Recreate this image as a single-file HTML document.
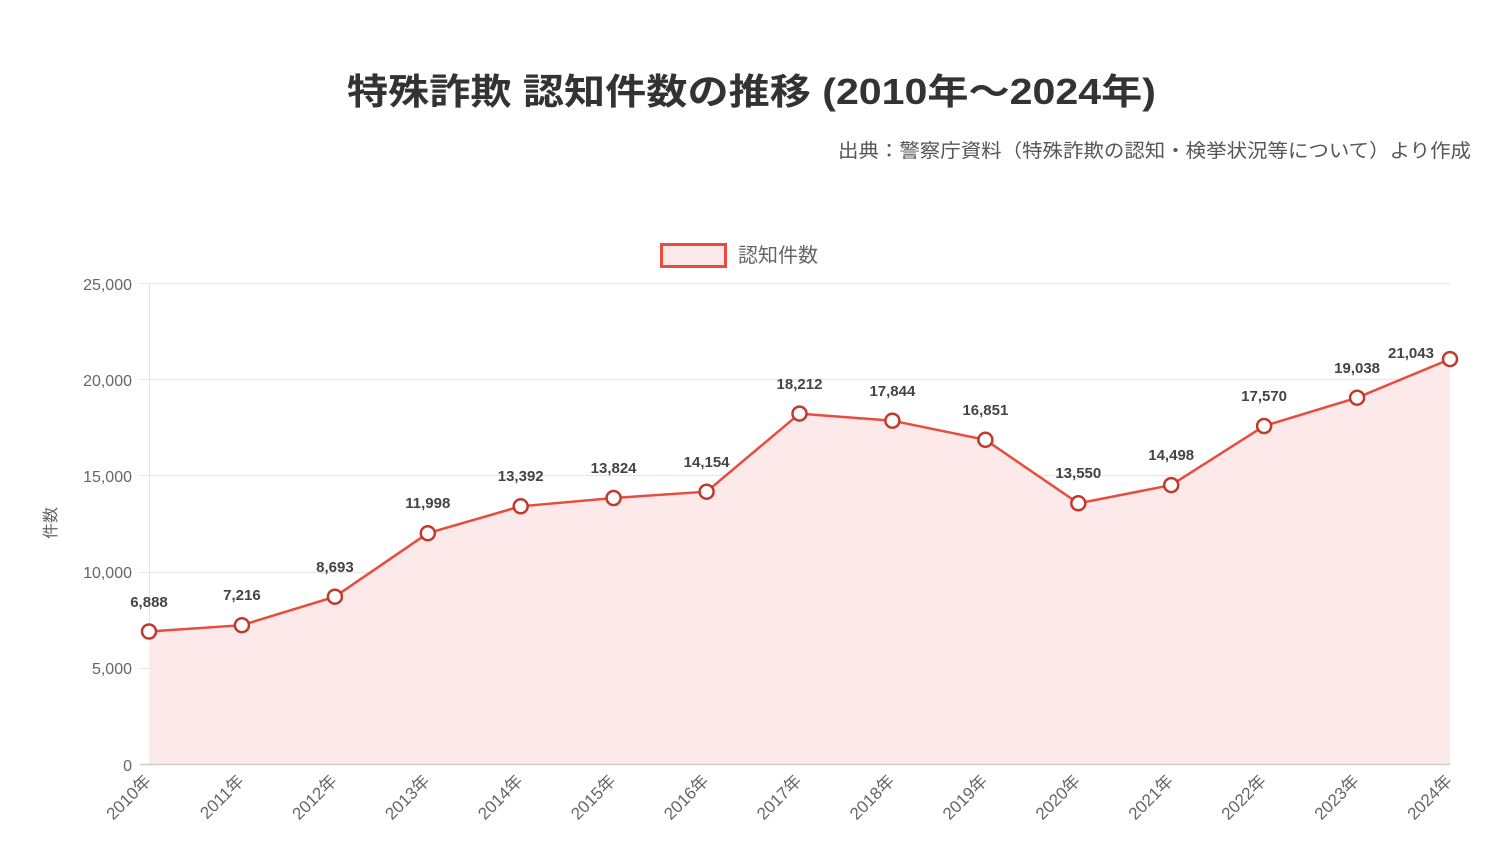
<!DOCTYPE html>
<html><head><meta charset="utf-8"><style>
body{margin:0;background:#fff;}
svg{display:block;font-family:"Liberation Sans","Noto Sans CJK JP",sans-serif;}
</style></head><body>
<svg width="1504" height="868" viewBox="0 0 1504 868">
<text x="347" y="104" textLength="809" lengthAdjust="spacingAndGlyphs" font-size="36" font-weight="bold" fill="#333">特殊詐欺 認知件数の推移 (2010年〜2024年)</text>
<text x="838" y="157" textLength="633" lengthAdjust="spacingAndGlyphs" font-size="19" fill="#555">出典：警察庁資料（特殊詐欺の認知・検挙状況等について）より作成</text>
<rect x="661.5" y="244.5" width="64" height="22" fill="#fde8e8" stroke="#e74c3c" stroke-width="3"/>
<text x="738" y="262" font-size="20" fill="#666">認知件数</text>
<g stroke="#e5e5e5" stroke-width="1">
<line x1="140" y1="283.5" x2="1450" y2="283.5"/>
<line x1="140" y1="379.5" x2="1450" y2="379.5"/>
<line x1="140" y1="475.5" x2="1450" y2="475.5"/>
<line x1="140" y1="572.5" x2="1450" y2="572.5"/>
<line x1="140" y1="668.5" x2="1450" y2="668.5"/>
<line x1="149.5" y1="283" x2="149.5" y2="764"/>
</g>
<g font-size="16" fill="#666" text-anchor="end">
<text x="132" y="290">25,000</text>
<text x="132" y="386">20,000</text>
<text x="132" y="482">15,000</text>
<text x="132" y="578">10,000</text>
<text x="132" y="674">5,000</text>
<text x="132" y="771">0</text>
</g>
<text transform="translate(56,523) rotate(-90)" text-anchor="middle" font-size="16" fill="#666">件数</text>
<path d="M149,631.5 L241.9,625.2 L334.9,596.7 L427.8,533.2 L520.7,506.3 L613.6,498 L706.6,491.7 L799.5,413.6 L892.4,420.7 L985.4,439.8 L1078.3,503.3 L1171.2,485.1 L1264.1,426 L1357.1,397.7 L1450,359.1 L1450,764 L149,764 Z" fill="#fde9ea"/>
<line x1="140" y1="764.5" x2="1450" y2="764.5" stroke="#ccc" stroke-width="1.5"/>
<polyline points="149,631.5 241.9,625.2 334.9,596.7 427.8,533.2 520.7,506.3 613.6,498 706.6,491.7 799.5,413.6 892.4,420.7 985.4,439.8 1078.3,503.3 1171.2,485.1 1264.1,426 1357.1,397.7 1450,359.1" fill="none" stroke="#e74c3c" stroke-width="2.5"/>
<g fill="#fff" stroke="#c0392b" stroke-width="2.5">
<circle cx="149" cy="631.5" r="7"/><circle cx="241.9" cy="625.2" r="7"/><circle cx="334.9" cy="596.7" r="7"/><circle cx="427.8" cy="533.2" r="7"/><circle cx="520.7" cy="506.3" r="7"/><circle cx="613.6" cy="498" r="7"/><circle cx="706.6" cy="491.7" r="7"/><circle cx="799.5" cy="413.6" r="7"/><circle cx="892.4" cy="420.7" r="7"/><circle cx="985.4" cy="439.8" r="7"/><circle cx="1078.3" cy="503.3" r="7"/><circle cx="1171.2" cy="485.1" r="7"/><circle cx="1264.1" cy="426" r="7"/><circle cx="1357.1" cy="397.7" r="7"/><circle cx="1450" cy="359.1" r="7"/>
</g>
<g font-size="15" font-weight="bold" fill="#444" text-anchor="middle">
<text x="149" y="607">6,888</text><text x="241.9" y="600">7,216</text><text x="334.9" y="572">8,693</text><text x="427.8" y="508">11,998</text><text x="520.7" y="481">13,392</text><text x="613.6" y="473">13,824</text><text x="706.6" y="467">14,154</text><text x="799.5" y="389">18,212</text><text x="892.4" y="396">17,844</text><text x="985.4" y="415">16,851</text><text x="1078.3" y="478">13,550</text><text x="1171.2" y="460">14,498</text><text x="1264.1" y="401">17,570</text><text x="1357.1" y="373">19,038</text><text x="1411" y="358">21,043</text>
</g>
<g font-size="17" fill="#666" text-anchor="end">
<text transform="translate(152,782) rotate(-45)">2010年</text>
<text transform="translate(244.9,782) rotate(-45)">2011年</text>
<text transform="translate(337.9,782) rotate(-45)">2012年</text>
<text transform="translate(430.8,782) rotate(-45)">2013年</text>
<text transform="translate(523.7,782) rotate(-45)">2014年</text>
<text transform="translate(616.6,782) rotate(-45)">2015年</text>
<text transform="translate(709.6,782) rotate(-45)">2016年</text>
<text transform="translate(802.5,782) rotate(-45)">2017年</text>
<text transform="translate(895.4,782) rotate(-45)">2018年</text>
<text transform="translate(988.4,782) rotate(-45)">2019年</text>
<text transform="translate(1081.3,782) rotate(-45)">2020年</text>
<text transform="translate(1174.2,782) rotate(-45)">2021年</text>
<text transform="translate(1267.1,782) rotate(-45)">2022年</text>
<text transform="translate(1360.1,782) rotate(-45)">2023年</text>
<text transform="translate(1453,782) rotate(-45)">2024年</text>
</g>
</svg>
</body></html>
